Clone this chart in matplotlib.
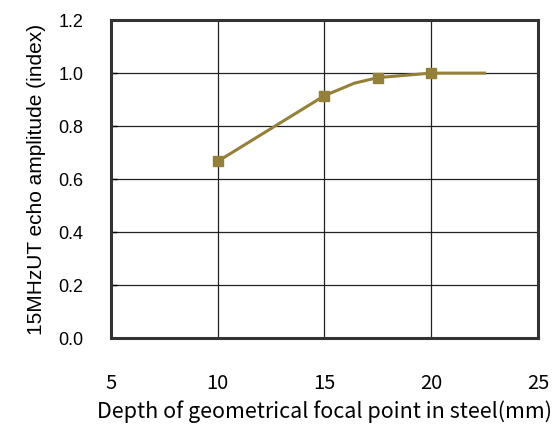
import matplotlib
matplotlib.use('Agg')
from matplotlib import pyplot as plt

# measured points (markers)
depth = [10, 15, 17.5, 20]
amplitude = [0.667, 0.915, 0.983, 1.0]

# vertices of the drawn line
line_depth = [10, 15, 16.4, 17.5, 20, 22.5]
line_amp = [0.667, 0.915, 0.962, 0.983, 1.0, 1.0]

x_ticks = [5, 10, 15, 20, 25]
y_ticks = [0.0, 0.2, 0.4, 0.6, 0.8, 1.0, 1.2]

olive = '#95803a'

fig = plt.figure(figsize=(5.58, 4.28), dpi=100)
ax = fig.add_axes([0.199, 0.210, 0.765, 0.743])

ax.plot(line_depth, line_amp, color=olive, lw=2.2, zorder=3)
ax.plot(depth, amplitude, ls='none', marker='s', ms=7, color=olive, zorder=4)

ax.set_xlim(5, 25)
ax.set_ylim(0, 1.2)
ax.set_xticks(x_ticks)
ax.set_yticks(y_ticks)
ax.grid(True, color='#222222', lw=0.9)
ax.set_axisbelow(True)

for s in ax.spines.values():
    s.set_linewidth(2.2)
    s.set_color('#333333')

ax.tick_params(axis='x', length=0, pad=25)
ax.tick_params(axis='y', direction='in', length=4, width=1, pad=20)
ax.set_xticklabels([str(v) for v in x_ticks], family='Noto Sans CJK JP', fontsize=14.5)
ax.set_yticklabels(['%.1f' % v for v in y_ticks], family='Liberation Sans', fontsize=13)

ax.set_xlabel('Depth of geometrical focal point in steel(mm)', family='Noto Sans CJK JP',
              fontsize=15.5, labelpad=5)
ax.set_ylabel('15MHzUT echo amplitude (index)', family='Liberation Sans', fontsize=15,
              labelpad=9)

fig.savefig('out.png', dpi=100)
